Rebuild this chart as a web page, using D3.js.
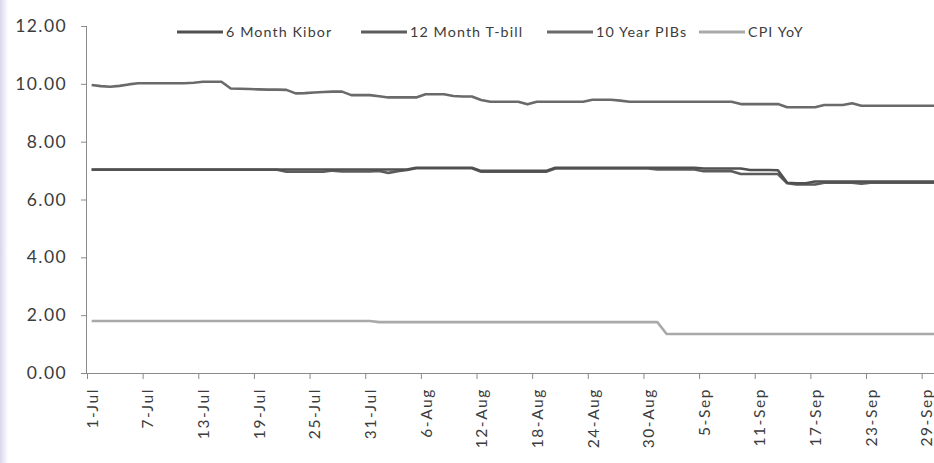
<!DOCTYPE html>
<html>
<head>
<meta charset="utf-8">
<script src="https://cdn.jsdelivr.net/npm/d3@7/dist/d3.min.js"></script>
<style>
  html, body { margin: 0; padding: 0; background: #ffffff; }
  svg { display: block; }
  text { font-family: Lato, "Open Sans", sans-serif; fill: #3c3c3c; }
</style>
</head>
<body>
<svg id="chart" width="934" height="463"></svg>
<script>
// Daily observations, 1 Jul – 30 Sep 2015 (percent)
const startDate = "2015-07-01";
const endDate = "2015-10-01"; // exclusive

const seriesNames = ["6 Month Kibor", "12 Month T-bill", "10 Year PIBs", "CPI YoY"];

const kibor6m = [
  7.04,7.04,7.04,7.04,7.04,7.04,7.04,7.04,7.04,7.04,
  7.04,7.04,7.04,7.04,7.04,7.04,7.04,7.04,7.04,7.04,
  7.04,7.04,7.04,7.04,7.04,7.04,7.04,7.04,7.04,7.04,
  7.04,7.04,7.04,7.04,7.04,7.10,7.10,7.10,7.10,7.10,
  7.10,7.10,6.99,6.99,6.99,6.99,6.99,6.99,6.99,6.99,
  7.10,7.10,7.10,7.10,7.10,7.10,7.10,7.10,7.10,7.10,
  7.10,7.10,7.10,7.10,7.10,7.10,7.07,7.07,7.07,7.07,
  7.07,7.02,7.02,7.02,7.01,6.58,6.56,6.56,6.62,6.62,
  6.62,6.62,6.62,6.62,6.62,6.62,6.62,6.62,6.62,6.62,
  6.62,6.62
];

const tbill12m = [
  7.03,7.03,7.03,7.03,7.03,7.03,7.03,7.03,7.03,7.03,
  7.03,7.03,7.03,7.03,7.03,7.03,7.03,7.03,7.03,7.03,
  7.03,6.96,6.96,6.96,6.96,6.96,7.00,6.97,6.97,6.97,
  6.97,6.99,6.92,6.98,7.02,7.08,7.08,7.08,7.08,7.08,
  7.08,7.08,6.96,6.96,6.96,6.96,6.96,6.96,6.96,6.96,
  7.07,7.07,7.07,7.07,7.07,7.07,7.07,7.07,7.07,7.07,
  7.07,7.04,7.04,7.04,7.04,7.04,6.98,6.98,6.98,6.98,
  6.88,6.88,6.88,6.88,6.88,6.56,6.52,6.52,6.52,6.58,
  6.58,6.58,6.58,6.55,6.58,6.58,6.58,6.58,6.58,6.58,
  6.58,6.58
];

const pibs10y = [
  9.96,9.92,9.90,9.93,9.98,10.02,10.02,10.02,10.02,10.02,
  10.02,10.04,10.07,10.07,10.07,9.84,9.83,9.82,9.81,9.80,
  9.80,9.79,9.67,9.68,9.70,9.72,9.73,9.73,9.61,9.61,
  9.61,9.57,9.53,9.53,9.53,9.53,9.64,9.64,9.64,9.58,
  9.56,9.56,9.44,9.38,9.38,9.38,9.38,9.29,9.38,9.38,
  9.38,9.38,9.38,9.38,9.45,9.45,9.45,9.42,9.38,9.38,
  9.38,9.38,9.38,9.38,9.38,9.38,9.38,9.38,9.38,9.38,
  9.30,9.30,9.30,9.30,9.30,9.19,9.19,9.19,9.19,9.27,
  9.27,9.27,9.33,9.24,9.24,9.24,9.24,9.24,9.24,9.24,
  9.24,9.24
];

const cpiYoY = [
  1.80,1.80,1.80,1.80,1.80,1.80,1.80,1.80,1.80,1.80,
  1.80,1.80,1.80,1.80,1.80,1.80,1.80,1.80,1.80,1.80,
  1.80,1.80,1.80,1.80,1.80,1.80,1.80,1.80,1.80,1.80,
  1.80,1.76,1.76,1.76,1.76,1.76,1.76,1.76,1.76,1.76,
  1.76,1.76,1.76,1.76,1.76,1.76,1.76,1.76,1.76,1.76,
  1.76,1.76,1.76,1.76,1.76,1.76,1.76,1.76,1.76,1.76,
  1.76,1.76,1.35,1.35,1.35,1.35,1.35,1.35,1.35,1.35,
  1.35,1.35,1.35,1.35,1.35,1.35,1.35,1.35,1.35,1.35,
  1.35,1.35,1.35,1.35,1.35,1.35,1.35,1.35,1.35,1.35,
  1.35,1.35
];

const yTicks = [0, 2, 4, 6, 8, 10, 12];
const xTickLabels = ["1-Jul","7-Jul","13-Jul","19-Jul","25-Jul","31-Jul","6-Aug",
  "12-Aug","18-Aug","24-Aug","30-Aug","5-Sep","11-Sep","17-Sep","23-Sep","29-Sep"];

const seriesColors = ["#505050", "#5c5c5c", "#6a6a6a", "#a9a9a9"];

// ---- layout ----
const svg = d3.select("#chart");
const W = 934, H = 463;
const plot = { left: 87, top: 26, bottom: 373, dayWidth: 9.274 };

const parse = d3.utcParse("%Y-%m-%d");
const d0 = parse(startDate), d1 = parse(endDate);
const dates = d3.utcDay.range(d0, d1);
const nDays = d3.utcDay.count(d0, d1);

const x = d3.scaleUtc()
  .domain([d0, d1])
  .range([plot.left, plot.left + nDays * plot.dayWidth]);
const y = d3.scaleLinear().domain([0, 12]).range([plot.bottom, plot.top]);

// points sit in the middle of each day slot
const xMid = d => x(d3.utcHour.offset(d, 12));

// faint tint along the left border
const defs = svg.append("defs");
const grad = defs.append("linearGradient").attr("id", "edge").attr("x1", 0).attr("x2", 1);
grad.append("stop").attr("offset", "0%").attr("stop-color", "#d9d6ec");
grad.append("stop").attr("offset", "100%").attr("stop-color", "#ffffff");
svg.append("rect").attr("width", W).attr("height", H).attr("fill", "#ffffff");
svg.append("rect").attr("width", 8).attr("height", H).attr("fill", "url(#edge)");

const clip = defs.append("clipPath").attr("id", "plotclip");
clip.append("rect").attr("x", plot.left).attr("y", 0).attr("width", W - plot.left).attr("height", H);

// ---- axes ----
const yAxis = d3.axisLeft(y).tickValues(yTicks).tickFormat(d3.format(".2f"))
  .tickSize(6).tickPadding(14);
const gy = svg.append("g").attr("transform", `translate(${plot.left},0)`).call(yAxis);
gy.select(".domain").attr("stroke", "#8a8a8a").attr("d", `M-0.5,${plot.top}V${plot.bottom}`);
gy.selectAll(".tick line").attr("stroke", "#8a8a8a");
gy.selectAll(".tick text")
  .style("font-family", "Lato, sans-serif").style("font-size", "17.5px")
  .style("letter-spacing", "1.4px").attr("fill", "#404040");

const tickDates = xTickLabels.map((_, i) => d3.utcDay.offset(d0, i * 6));
const xAxis = d3.axisBottom(x).tickValues(tickDates)
  .tickFormat((d, i) => xTickLabels[i]).tickSize(6).tickSizeOuter(0);
const gx = svg.append("g").attr("transform", `translate(0,${plot.bottom})`).call(xAxis);
gx.select(".domain").attr("stroke", "#8a8a8a").attr("d", `M${plot.left},0.5H${W}`);
gx.selectAll(".tick line").attr("stroke", "#8a8a8a");
gx.selectAll(".tick text")
  .attr("y", null).attr("dy", null)
  .attr("text-anchor", "end")
  .attr("transform", `translate(${plot.dayWidth / 2},15) rotate(-90)`)
  .attr("dy", "0.36em")
  .style("font-family", "Lato, sans-serif").style("font-size", "15.5px")
  .style("letter-spacing", "1.6px").attr("fill", "#404040");

// ---- lines ----
const allSeries = [kibor6m, tbill12m, pibs10y, cpiYoY];
const line = d3.line()
  .x((d, i) => xMid(dates[i]))
  .y(d => y(d));

const gLines = svg.append("g").attr("clip-path", "url(#plotclip)");
[3, 2, 1, 0].forEach(k => {
  gLines.append("path")
    .datum(allSeries[k])
    .attr("fill", "none")
    .attr("stroke", seriesColors[k])
    .attr("stroke-width", 2.6)
    .attr("stroke-linejoin", "round")
    .attr("d", line);
});

// ---- legend ----
const legendX = [177, 361, 547, 699];
const legendY = 32;
const lg = svg.append("g");
seriesNames.forEach((name, i) => {
  const g = lg.append("g").attr("transform", `translate(${legendX[i]},${legendY})`);
  g.append("line").attr("x1", 0).attr("x2", 46).attr("y1", 0).attr("y2", 0)
    .attr("stroke", seriesColors[i]).attr("stroke-width", 2.8);
  g.append("text").attr("x", 49).attr("dy", "0.35em")
    .style("font-size", "14.3px").style("letter-spacing", "1.1px")
    .attr("fill", "#404040").text(name);
});
</script>
</body>
</html>
